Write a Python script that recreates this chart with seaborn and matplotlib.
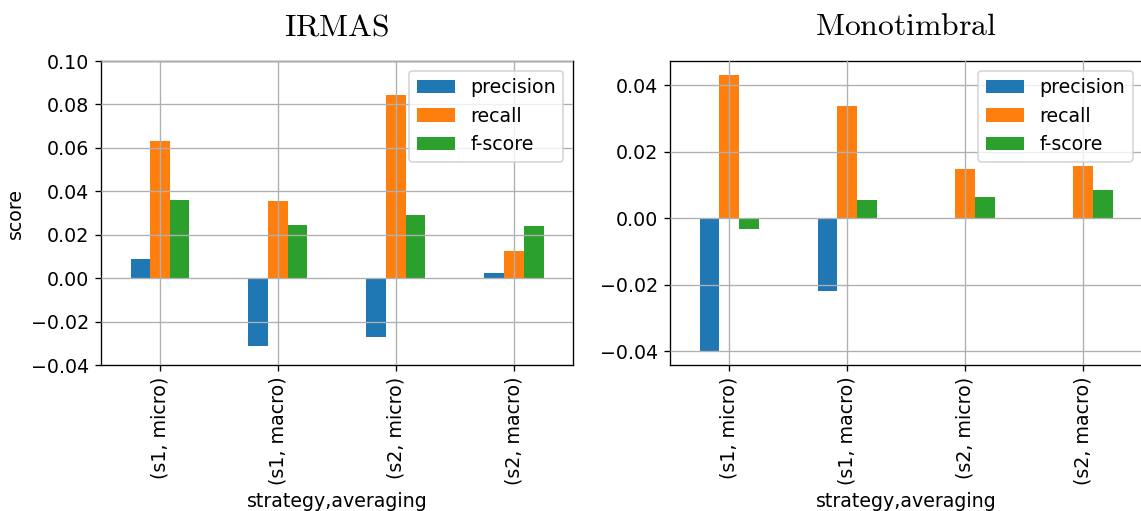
import numpy as np
import pandas as pd
import matplotlib
matplotlib.use("Agg")
import matplotlib.pyplot as plt
import seaborn as sns

# Score differences per (strategy, averaging) combination
groups = ["(s1, micro)", "(s1, macro)", "(s2, micro)", "(s2, macro)"]
metrics = ["precision", "recall", "f-score"]

irmas_precision = [0.0088, -0.0312, -0.0271, 0.0023]
irmas_recall = [0.0632, 0.0355, 0.0845, 0.0125]
irmas_fscore = [0.0360, 0.0245, 0.0291, 0.0240]

mono_precision = [-0.0400, -0.0218, 0.0000, 0.0000]
mono_recall = [0.0432, 0.0339, 0.0149, 0.0158]
mono_fscore = [-0.0032, 0.0055, 0.0064, 0.0085]

palette = ["#1f77b4", "#ff7f0e", "#2ca02c"]


def long_form(prec, rec, fs):
    rows = []
    for name, vals in zip(metrics, [prec, rec, fs]):
        for g, v in zip(groups, vals):
            rows.append({"strategy,averaging": g, "metric": name, "score": v})
    return pd.DataFrame(rows)


df_irmas = long_form(irmas_precision, irmas_recall, irmas_fscore)
df_mono = long_form(mono_precision, mono_recall, mono_fscore)

FS = 11.4
plt.rcParams["mathtext.fontset"] = "cm"
plt.rcParams["font.family"] = ["DejaVu Sans"]
plt.rcParams["font.size"] = FS

W, H, DPI = 1141, 511, 120
fig = plt.figure(figsize=(W / DPI, H / DPI), dpi=DPI)
ax1 = fig.add_axes([101 / W, 146 / H, 472 / W, 304 / H])
ax2 = fig.add_axes([670 / W, 146 / H, 472 / W, 304 / H])

for ax, df, title in [(ax1, df_irmas, r"$\mathrm{IRMAS}$"),
                      (ax2, df_mono, r"$\mathrm{Monotimbral}$")]:
    sns.barplot(data=df, x="strategy,averaging", y="score", hue="metric",
                hue_order=metrics, order=groups, palette=palette,
                width=0.5, gap=0, errorbar=None, saturation=1.0, ax=ax)
    ax.grid(True, color="#b0b0b0", linewidth=0.8)
    ax.set_axisbelow(False)
    ax.tick_params(axis="x", rotation=90)
    ax.tick_params(labelsize=FS)
    ax.set_xlim(-0.5, len(groups) - 0.5)
    ax.legend(loc="upper right", title=None, fontsize=FS)
    ax.set_title(title, fontsize=19, pad=15.5)
    ax.xaxis.label.set_size(FS)
    ax.yaxis.label.set_size(FS)
    for s in ax.spines.values():
        s.set_color("black")
        s.set_linewidth(0.8)

ax1.set_ylim(-0.04, 0.10)
ax1.set_ylabel("score")
ax2.set_ylabel("")
ax2.margins(y=0.05)

fig.savefig("out.png", dpi=DPI)
